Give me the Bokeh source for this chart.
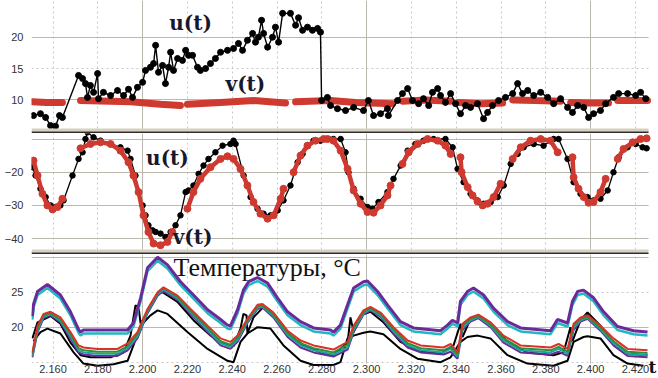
from bokeh.plotting import figure
from bokeh.layouts import column
from bokeh.models import Range1d, FixedTicker, Grid, Label, BoxAnnotation
from bokeh.core.properties import value
from bokeh.embed import file_html
from bokeh.resources import INLINE

# ---------------- axis data ----------------
X_TICKS = [2160, 2180, 2200, 2220, 2240, 2260, 2280, 2300, 2320, 2340, 2360, 2380, 2400, 2420]
X_LABELS = ["2.160", "2.180", "2.200", "2.220", "2.240", "2.260", "2.280",
            "2.300", "2.320", "2.340", "2.360", "2.380", "2.400", "2.420"]
X_MAJOR = [2200, 2300, 2400]

P1_TICKS, P1_SOLID, P1_DASH = [10, 15, 20], [10, 20], [15]
P2_TICKS, P2_SOLID, P2_DASH = [-40, -30, -20], [-40, -30, -20, -10], []
P3_TICKS, P3_SOLID, P3_DASH = [20, 25], [20, 30], [15, 25]

# ---------------- panel 1: u(t) (black) and v(t) (red) ----------------
U1_T = [2151.3, 2154.4, 2156.7, 2158.9, 2161.1, 2162.9, 2164.2, 2171.4, 2173.2, 2174.5,
        2175.4, 2176.7, 2178.1, 2179.9, 2180.3, 2182.5, 2185.7, 2188.8, 2191.5, 2193.7,
        2195.5, 2197.7, 2200.0, 2201.3, 2203.5, 2204.9, 2205.8, 2207.1, 2208.9, 2210.2,
        2211.6, 2212.5, 2213.8, 2215.6, 2217.8, 2219.2, 2220.5, 2222.3, 2224.5, 2225.8,
        2228.1, 2230.3, 2232.5, 2234.8, 2237.9, 2240.6, 2242.8, 2244.6, 2246.8, 2249.1,
        2250.4, 2251.7, 2253.1, 2254.0, 2255.8, 2258.0, 2259.3, 2260.7, 2262.5, 2266.0,
        2268.3, 2269.6, 2271.4, 2273.6, 2275.8, 2278.1, 2279.4, 2279.9, 2282.5,
        2283.9, 2287.0, 2290.6, 2294.2, 2298.6, 2300.8, 2303.1, 2306.2, 2309.3, 2309.7,
        2313.8, 2316.0, 2318.3, 2320.5, 2323.2, 2325.4, 2327.7, 2329.4, 2331.7, 2333.0,
        2335.2, 2337.5, 2339.7, 2341.9, 2344.2, 2346.4, 2349.5, 2352.2, 2354.0, 2356.2,
        2358.9, 2362.0, 2365.2, 2367.4, 2369.6, 2371.9, 2374.6, 2377.7, 2380.8, 2383.5,
        2386.6, 2389.7, 2391.9, 2394.2, 2396.9, 2399.1, 2401.3, 2404.4, 2406.7, 2410.2,
        2412.5, 2416.5, 2420.1, 2422.3, 2424.6]
U1_V = [7.5, 7.8, 7.2, 5.9, 5.8, 7.5, 7.2, 13.9, 13.4, 12.6,
        10.4, 12.3, 11.2, 14.2, 10.2, 11.2, 10.7, 11.5, 10.7, 11.7,
        10.4, 12.0, 12.8, 14.7, 15.2, 15.8, 18.7, 14.4, 15.5, 12.6,
        15.2, 17.6, 14.7, 16.6, 16.3, 17.9, 17.1, 17.1, 15.2, 14.7,
        15.0, 15.8, 16.6, 17.6, 17.9, 18.2, 19.0, 17.9, 19.5, 20.6,
        19.2, 20.0, 22.7, 20.6, 18.4, 20.0, 21.6, 19.2, 23.8, 23.8,
        21.9, 23.1, 21.1, 21.6, 21.1, 21.4, 20.8, 9.9, 10.4,
        9.1, 8.6, 8.3, 8.8, 8.3, 9.9, 7.5, 7.8, 8.6, 7.5,
        9.9, 11.0, 11.8, 9.9, 9.4, 10.2, 9.1, 11.2, 11.8, 10.7,
        9.6, 11.0, 9.4, 7.8, 9.1, 8.8, 9.4, 7.0, 8.0, 9.1,
        9.9, 10.4, 11.0, 12.6, 11.0, 11.5, 10.7, 11.2, 10.4, 9.4,
        10.2, 8.8, 8.0, 9.1, 8.8, 7.2, 7.8, 8.3, 9.4, 10.4,
        11.0, 11.0, 10.7, 11.2, 10.2]

V1_T = [[2150.8, 2157.0, 2164.2], [2172.3, 2194.6, 2208.0, 2216.9],
        [2220.0, 2234.8, 2249.5, 2263.8], [2268.3, 2283.9, 2295.1, 2311.6],
        [2316.0, 2326.3, 2337.5], [2341.1, 2350.9, 2360.7], [2365.2, 2375.4, 2386.6],
        [2391.1, 2400.0, 2408.0], [2412.1, 2425.4]]
V1_V = [[9.7, 9.6, 9.6], [9.9, 9.7, 9.3, 9.1],
        [9.3, 9.6, 9.9, 9.5], [9.7, 9.9, 9.6, 9.4],
        [9.8, 10.0, 9.8], [9.6, 9.4, 9.5], [10.0, 9.9, 9.8],
        [9.6, 9.5, 9.5], [9.9, 9.9]]

# ---------------- panel 2 ----------------
U2_T = [2150.8, 2152.2, 2154.4, 2156.7, 2158.9, 2161.1, 2163.3, 2164.7, 2168.7, 2171.4,
        2173.2, 2174.5, 2175.4, 2178.1, 2181.2, 2185.7, 2190.1, 2193.3, 2194.6, 2196.8,
        2198.2, 2200.0, 2201.3, 2202.6, 2204.4, 2205.8, 2208.0, 2210.2, 2212.5, 2214.7,
        2216.9, 2219.2, 2220.5, 2222.7, 2225.0, 2227.2, 2229.4, 2232.5, 2235.7, 2239.2,
        2240.6, 2241.5, 2245.1, 2248.2, 2251.3, 2254.0, 2257.1, 2260.3, 2262.9, 2266.0,
        2269.2, 2271.4, 2273.6, 2276.3, 2279.4, 2283.0, 2285.2, 2288.4, 2290.6, 2291.9,
        2294.2, 2297.3, 2300.4, 2302.6, 2305.3, 2309.3, 2312.0, 2315.2, 2318.3, 2321.8,
        2325.4, 2329.9, 2335.2, 2338.4, 2340.6, 2343.3, 2346.4, 2349.5, 2352.2, 2355.4,
        2358.5, 2361.2, 2364.3, 2367.4, 2370.1, 2374.6, 2379.0, 2383.5, 2385.7, 2389.7,
        2392.4, 2395.5, 2398.6, 2401.3, 2404.4, 2407.6, 2410.2, 2412.5, 2416.5, 2420.1,
        2423.2, 2425.0]
U2_V = [-18.5, -21, -25, -27.5, -30, -30.5, -30, -28.5, -21, -16,
        -14, -10, -8, -9.5, -10.5, -11.5, -12.5, -13.5, -16, -21,
        -26, -30, -33, -36, -37.5, -38, -38.5, -39.5, -38, -36,
        -33, -26, -25.5, -24, -20.5, -18, -16, -14, -12, -11.5,
        -10.5, -11.5, -21, -27.5, -31, -32.5, -33, -31.5, -28.5, -24,
        -17, -14.5, -12, -10.5, -10.5, -10, -10, -10, -14, -20,
        -25, -28, -30.5, -31, -29, -26, -22, -18, -13.5, -11.5,
        -10.5, -10, -10, -12.5, -19, -23, -26.5, -28.5, -29.5, -29,
        -27.5, -24, -17.5, -14.5, -12.5, -11.5, -12, -10, -10, -16,
        -23, -26.5, -27.5, -28.5, -28, -25.5, -20, -15.5, -12.5, -11.5,
        -12.5, -12.8]

V2_T = [[2151.3, 2153.1, 2155.3, 2157.5, 2159.8, 2162.0, 2164.2],
        [2172.3, 2176.7, 2181.2, 2185.7, 2190.1, 2193.7, 2195.9, 2198.2, 2200.4, 2202.6,
         2204.9, 2208.0, 2211.1, 2213.3],
        [2220.0, 2222.7, 2225.8, 2230.3, 2234.8, 2237.9, 2240.6, 2243.7, 2246.8, 2249.5,
         2252.6, 2255.8, 2258.5, 2261.6, 2262.9],
        [2267.4, 2270.5, 2273.6, 2277.2, 2280.8, 2282.5, 2285.2, 2288.4, 2291.5, 2294.2,
         2297.3, 2300.4, 2303.1, 2306.2, 2309.3, 2310.7],
        [2316.0, 2318.8, 2322.8, 2327.2, 2331.7, 2335.2, 2337.5],
        [2341.9, 2342.4, 2345.1, 2347.3, 2349.5, 2351.8, 2354.0, 2356.7, 2359.8],
        [2365.2, 2368.8, 2373.2, 2377.7, 2382.1, 2385.3],
        [2391.9, 2392.4, 2394.6, 2396.9, 2399.1, 2401.3, 2404.4, 2406.7],
        [2412.1, 2414.7, 2418.8, 2422.3, 2425.0]]
V2_V = [[-16.5, -21, -26.5, -30, -31.2, -30.5, -28],
        [-12.8, -11.5, -11, -11.5, -13.5, -17, -21, -26, -33, -38, -41.5, -42, -41, -38],
        [-31, -26, -22, -18.5, -16, -15.2, -16, -19, -24, -29, -32.5, -34, -33, -28, -25],
        [-20, -15, -12, -10.5, -10, -10, -10.5, -13.5, -19, -25.5, -29.5, -32, -32.2, -30,
         -27, -24],
        [-17.5, -14, -11.5, -10, -10.5, -12, -14.5],
        [-15.5, -20, -24.5, -27, -28.8, -30, -29.5, -27.5, -23.5],
        [-16, -12.5, -10.5, -10, -10.5, -14],
        [-15.5, -21.5, -25, -27.5, -29.2, -29, -26, -22],
        [-16, -13, -11, -10, -9.8]]

# ---------------- panel 3: temperatures ----------------
UP_T = [2150.8, 2151.3, 2153.1, 2157.5, 2163.3, 2167.8, 2171.4, 2172.3, 2173.6, 2193.3,
        2195.9, 2199.1, 2202.2, 2206.7, 2211.1, 2216.9, 2222.7, 2229.0, 2234.8, 2237.9,
        2239.2, 2242.4, 2245.0, 2247.3, 2251.3, 2255.8, 2260.2, 2264.7, 2270.5, 2276.3,
        2283.9, 2285.2, 2288.3, 2291.5, 2294.2, 2298.6, 2300.4, 2304.9, 2309.3, 2315.1,
        2320.9, 2333.0, 2336.1, 2338.3, 2340.6, 2341.9, 2345.0, 2347.7, 2352.2, 2356.7,
        2362.9, 2368.7, 2382.1, 2385.2, 2389.7, 2391.9, 2394.2, 2396.8, 2401.3, 2405.8,
        2412.0, 2419.2, 2425.4]
UP_PURPLE = [21.6, 23.3, 25.1, 26.1, 24.6, 22.2, 19.7, 19.3, 19.6, 19.6,
             20.6, 24.2, 28.5, 30.0, 28.9, 26.5, 24.6, 22.5, 21.1, 20.3,
             20.2, 22.5, 25.3, 26.5, 27.1, 26.3, 24.2, 22.2, 20.8, 19.9,
             19.6, 19.3, 20.3, 23.2, 25.6, 26.5, 26.6, 25.1, 23.2, 20.8,
             19.9, 19.5, 20.3, 21.0, 20.6, 23.7, 25.1, 25.6, 24.6, 22.7,
             20.8, 19.9, 19.5, 21.1, 20.6, 23.7, 25.1, 25.3, 24.2, 22.2,
             20.1, 19.5, 19.3]
UP_CYAN = [21.1, 22.8, 24.6, 25.6, 24.1, 21.7, 19.2, 18.8, 19.1, 19.1,
           20.1, 23.7, 28.0, 29.5, 28.4, 26.0, 24.1, 22.0, 20.6, 19.8,
           19.7, 22.0, 24.8, 26.0, 26.6, 25.8, 23.7, 21.7, 20.3, 19.4,
           19.1, 18.8, 19.8, 22.7, 25.1, 26.0, 26.1, 24.6, 22.7, 20.3,
           19.4, 19.0, 19.8, 20.5, 20.1, 23.2, 24.6, 25.1, 24.1, 22.2,
           20.3, 19.4, 19.0, 20.6, 20.1, 23.2, 24.6, 24.8, 23.7, 21.7,
           19.6, 19.0, 18.8]

MID_T = [2150.8, 2153.1, 2155.8, 2158.9, 2163.3, 2167.8, 2171.4, 2173.6, 2179.9, 2188.8,
         2193.3, 2197.7, 2202.2, 2206.7, 2209.3, 2215.6, 2221.4, 2229.0, 2234.8, 2239.2,
         2242.4, 2246.8, 2251.3, 2253.5, 2258.4, 2264.7, 2270.5, 2276.3, 2285.2, 2291.5,
         2294.2, 2298.6, 2301.7, 2306.2, 2312.0, 2318.3, 2324.1, 2334.3, 2337.5, 2340.6,
         2342.8, 2346.4, 2349.9, 2355.3, 2361.1, 2368.7, 2382.1, 2385.7, 2389.7, 2392.4,
         2395.5, 2398.6, 2404.4, 2410.2, 2416.5, 2425.4]
MID_RED = [16.4, 20.2, 21.9, 22.2, 21.4, 19.3, 17.4, 17.1, 16.9, 16.9,
           17.7, 19.3, 22.6, 25.0, 25.7, 24.5, 22.6, 20.2, 18.4, 17.9,
           18.8, 21.2, 23.2, 23.3, 22.1, 19.5, 18.1, 17.4, 16.8, 17.9,
           20.2, 22.4, 22.9, 22.1, 20.0, 18.1, 17.4, 17.1, 17.6, 16.4,
           20.5, 21.4, 21.8, 20.7, 18.8, 17.4, 17.1, 17.6, 16.9, 20.5,
           21.4, 21.7, 20.2, 18.4, 16.9, 16.7]
MID_GREEN = [16.2, 19.9, 21.7, 22.0, 21.1, 19.0, 17.0, 16.7, 16.5, 16.5,
             17.3, 19.0, 22.4, 24.9, 25.6, 24.3, 22.3, 19.9, 18.0, 17.5,
             18.5, 21.0, 23.0, 23.1, 21.8, 19.2, 17.7, 17.0, 16.4, 17.5,
             19.9, 22.2, 22.7, 21.9, 19.7, 17.7, 17.0, 16.7, 17.2, 16.1,
             20.2, 21.2, 21.6, 20.4, 18.4, 17.0, 16.7, 17.2, 16.5, 20.2,
             21.2, 21.5, 19.9, 18.0, 16.5, 16.3]
MID_TEAL = [15.9, 19.6, 21.5, 21.85, 20.9, 18.7, 16.7, 16.4, 16.2, 16.2,
            17.0, 18.7, 22.2, 24.7, 25.4, 24.1, 22.1, 19.6, 17.7, 17.2,
            18.2, 20.8, 22.8, 22.95, 21.6, 18.9, 17.4, 16.7, 16.1, 17.1,
            19.6, 22.0, 22.55, 21.7, 19.4, 17.4, 16.7, 16.4, 16.9, 15.8,
            19.9, 21.0, 21.45, 20.2, 18.1, 16.7, 16.4, 16.9, 16.2, 19.9,
            21.0, 21.35, 19.7, 17.7, 16.2, 16.0]
MID_PURPLE = [15.7, 19.3, 21.3, 21.7, 20.7, 18.4, 16.4, 16.1, 15.9, 15.9,
              16.7, 18.4, 22.0, 24.5, 25.2, 23.9, 21.9, 19.3, 17.4, 16.9,
              17.9, 20.6, 22.6, 22.8, 21.4, 18.6, 17.1, 16.4, 15.8, 16.8,
              19.3, 21.8, 22.4, 21.5, 19.1, 17.1, 16.4, 16.1, 16.5, 15.5,
              19.6, 20.8, 21.3, 20.0, 17.8, 16.4, 16.1, 16.5, 15.9, 19.6,
              20.8, 21.2, 19.5, 17.4, 15.9, 15.7]

BLK_A_T = [2150.8, 2153.1, 2158.9, 2163.3, 2167.8, 2172.3, 2176.7, 2185.7, 2191.5, 2194.6,
           2196.8, 2198.2, 2199.1, 2202.2, 2206.7, 2208.9, 2215.6, 2222.7, 2230.3, 2237.9,
           2240.6, 2243.7, 2245.0, 2246.4, 2246.8, 2249.5, 2254.0, 2260.2, 2266.0, 2271.8,
           2279.4, 2285.2, 2291.5, 2292.8, 2294.2, 2297.3, 2301.7, 2307.5, 2315.1, 2322.7,
           2333.0, 2338.8, 2341.9, 2342.8, 2346.4, 2350.8, 2356.7, 2364.2, 2371.8, 2383.4,
           2387.9, 2391.0, 2391.9, 2395.5, 2398.6, 2404.4, 2410.2, 2416.5, 2425.4]
BLK_A_V = [18.4, 20.7, 21.6, 20.5, 17.8, 16.0, 15.7, 15.7, 16.4, 18.8,
           23.1, 22.9, 20.5, 22.1, 24.8, 25.0, 23.6, 21.0, 18.8, 17.4,
           17.3, 19.8, 21.9, 21.7, 19.1, 21.4, 22.9, 21.2, 18.8, 17.4,
           16.4, 16.0, 17.8, 21.4, 19.3, 21.7, 22.2, 20.7, 17.9, 16.7,
           16.2, 17.4, 20.5, 18.6, 21.2, 21.4, 19.8, 17.6, 16.4, 16.0,
           16.4, 20.0, 18.0, 21.0, 22.1, 20.2, 17.9, 16.2, 16.0]

BLK_B_T = [2151.3, 2154.4, 2157.5, 2163.3, 2169.2, 2173.6, 2179.9, 2187.0, 2193.3, 2195.9,
           2199.1, 2203.5, 2206.7, 2211.1, 2220.0, 2229.0, 2237.9, 2240.6, 2243.7, 2246.8,
           2251.3, 2257.1, 2262.9, 2270.5, 2276.3, 2285.2, 2288.3, 2291.5, 2294.2, 2298.6,
           2301.7, 2307.5, 2315.1, 2322.7, 2333.0, 2337.5, 2341.9, 2345.0, 2349.5, 2355.3,
           2362.9, 2371.8, 2383.4, 2389.7, 2392.4, 2396.8, 2398.6, 2404.4, 2410.2, 2416.5,
           2423.6]
BLK_B_V = [18.0, 19.3, 19.8, 19.1, 16.4, 14.8, 14.5, 14.7, 15.2, 17.4,
           20.2, 21.7, 22.4, 21.9, 19.3, 16.9, 15.2, 15.0, 17.9, 19.1,
           20.0, 19.8, 17.4, 15.2, 14.6, 14.6, 15.0, 18.4, 18.8, 19.2,
           19.4, 19.0, 16.9, 15.5, 15.0, 15.7, 17.9, 18.6, 18.8, 18.4,
           16.0, 14.8, 14.5, 15.2, 17.9, 18.6, 18.7, 18.4, 16.0, 14.8,
           14.5]

for a, b in [(U1_T, U1_V), (U2_T, U2_V), (UP_T, UP_PURPLE), (UP_T, UP_CYAN),
             (MID_T, MID_RED), (MID_T, MID_GREEN), (MID_T, MID_TEAL), (MID_T, MID_PURPLE),
             (BLK_A_T, BLK_A_V), (BLK_B_T, BLK_B_V)]:
    assert len(a) == len(b), (len(a), len(b))

# ---------------- styling / layout ----------------
W = 658
BL = 31                       # left border (y tick labels)
XR = Range1d(2150.4, 2430.3)  # frame spans the rest of the width
X_GRID_END = 2425.85          # grid lines / separators stop here
GRID_SOLID = "#bcb7af"
GRID_DASH = "#c8c8c8"
RED = "#cf3a30"
SANS = "Liberation Sans"
SERIF = "Liberation Serif"
SERIF_B = "DejaVu Serif"
TXT = "#17172e"
SEP_LIGHT = "#d6d0c2"
SEP_DARK = "#2e2b27"


def panel(height, y0, y1, ticks, solid, dashed, vgrid_bounds="auto"):
    p = figure(width=W, height=height, output_backend="svg", toolbar_location=None,
               x_range=XR, y_range=Range1d(y0, y1), x_axis_location=None,
               min_border_left=BL, min_border_right=0, min_border_top=0, min_border_bottom=0)
    p.outline_line_color = None
    p.xgrid.grid_line_color = None
    p.ygrid.grid_line_color = None
    minor_x = [t for t in X_TICKS if t not in X_MAJOR]
    p.add_layout(Grid(dimension=0, ticker=FixedTicker(ticks=minor_x), cross_bounds=vgrid_bounds,
                      grid_line_color=GRID_DASH, grid_line_dash="2 3"))
    p.add_layout(Grid(dimension=0, ticker=FixedTicker(ticks=X_MAJOR), cross_bounds=vgrid_bounds,
                      grid_line_color=GRID_SOLID))
    hb = (XR.start, X_GRID_END)
    if dashed:
        p.add_layout(Grid(dimension=1, ticker=FixedTicker(ticks=dashed), cross_bounds=hb,
                          grid_line_color=GRID_DASH, grid_line_dash="2 3"))
    p.add_layout(Grid(dimension=1, ticker=FixedTicker(ticks=solid), cross_bounds=hb,
                      grid_line_color=GRID_SOLID))
    ya = p.yaxis[0]
    ya.ticker = FixedTicker(ticks=ticks)
    ya.axis_line_color = None
    ya.major_tick_line_color = None
    ya.minor_tick_line_color = None
    ya.major_label_standoff = 2
    ya.major_label_text_font = SANS
    ya.major_label_text_font_size = "11px"
    ya.major_label_text_color = "#333333"
    return p


def separator(p, light_top, light_bottom, dark_bottom):
    p.add_layout(BoxAnnotation(right=X_GRID_END, top=light_top, bottom=light_bottom,
                               fill_color=SEP_LIGHT, fill_alpha=1, line_color=None))
    p.add_layout(BoxAnnotation(right=X_GRID_END, top=light_bottom, bottom=dark_bottom,
                               fill_color=SEP_DARK, fill_alpha=1, line_color=None))


def label(p, x, y, text, size, font=SERIF_B, bold=True, align="center", color=TXT):
    p.add_layout(Label(x=x, y=y, text=text, text_font=font, text_font_size=size,
                       text_font_style="bold" if bold else "normal",
                       text_color=color, text_align=align, text_baseline="middle"))


# panel 1  (frame 133 px)
p1 = panel(133, 4.64, 25.85, P1_TICKS, P1_SOLID, P1_DASH)
p1.multi_line(V1_T, V1_V, line_color=RED, line_width=7, line_cap="round")
p1.line(U1_T, U1_V, line_color="black", line_width=1.4)
p1.scatter(U1_T, U1_V, size=6, color="black")
label(p1, 2221.4, 22.2, "u(t)", "20px")
label(p1, 2245.9, 12.6, "v(t)", "20px")
separator(p1, 5.44, 4.96, 4.64)

# panel 2  (frame 121 px)
p2 = panel(121, -44.79, -8.34, P2_TICKS, P2_SOLID, P2_DASH)
p2.line(U2_T, U2_V, line_color="black", line_width=1.3)
p2.scatter(U2_T, U2_V, size=5.5, color="black")
p2.multi_line(V2_T, V2_V, line_color=RED, line_width=4.5, line_cap="round")
for xs, ys in zip(V2_T, V2_V):
    p2.scatter(xs, ys, size=7, color=RED)
label(p2, 2211.1, -15.6, "u(t)", "20px")
label(p2, 2222.3, -39.4, "v(t)", "20px")
separator(p2, -43.28, -44.19, -44.79)

# panel 3  (frame 124 px, x tick labels drawn at its foot)
X_LABEL_Y = 14.62
p3 = panel(124, 12.67, 30.39, P3_TICKS, P3_SOLID, P3_DASH, vgrid_bounds=(14.8, 30.39))
p3.line(BLK_B_T, BLK_B_V, line_color="black", line_width=2)
p3.line(BLK_A_T, BLK_A_V, line_color="black", line_width=2)
p3.line(MID_T, MID_PURPLE, line_color="#6a2a9a", line_width=2)
p3.line(MID_T, MID_TEAL, line_color="#1aa6a0", line_width=2)
p3.line(MID_T, MID_GREEN, line_color="#2f8f3a", line_width=2)
p3.line(MID_T, MID_RED, line_color="#d8322a", line_width=2)
p3.line(UP_T, UP_CYAN, line_color="#22b8c0", line_width=2.5)
p3.line(UP_T, UP_PURPLE, line_color="#6a2a9a", line_width=3)
p3.text(x=X_TICKS, y=[X_LABEL_Y] * len(X_TICKS), text=X_LABELS,
        text_font=value(SANS), text_font_size="11px", text_color="#333333",
        text_align="center", text_baseline="top")
label(p3, 2213.8, 28.5, "Температуры, °С", "26px", font=SERIF, bold=False, align="left",
      color="#111111")
label(p3, 2427.6, 14.25, "t", "17px", color="#111111")

layout = column(p1, p2, p3, spacing=0)

open("out.html", "w").write(file_html(layout, INLINE))
